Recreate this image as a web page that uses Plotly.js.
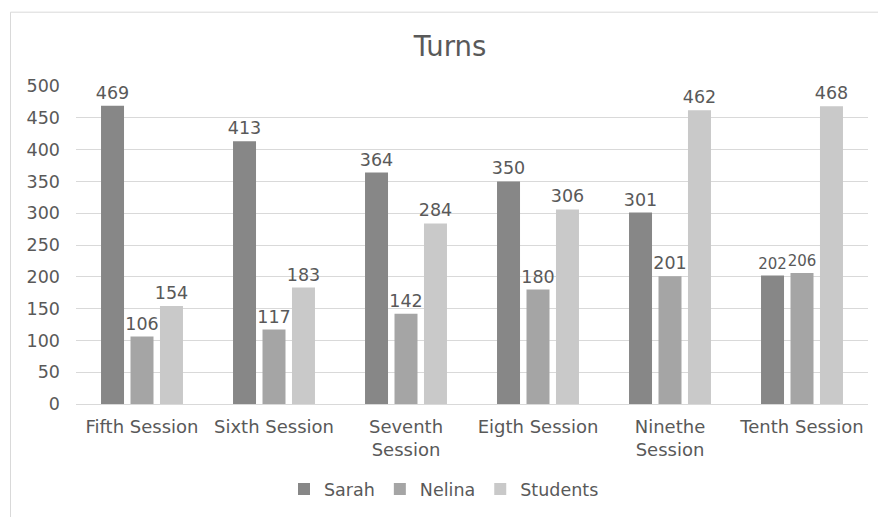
<!DOCTYPE html>
<html>
<head>
<meta charset="utf-8">
<script src="https://cdn.plot.ly/plotly-3.0.1.min.js"></script>
<style>html,body{margin:0;padding:0;background:#fff;}#chart{width:878px;height:517px;}</style>
</head>
<body>
<div id="chart"></div>
<script>
const categories = ["Fifth Session", "Sixth Session", "Seventh<br>Session", "Eigth Session", "Ninethe<br>Session", "Tenth Session"];
const sarah = [469, 413, 364, 350, 301, 202];
const nelina = [106, 117, 142, 180, 201, 206];
const students = [154, 183, 284, 306, 462, 468];
const seriesNames = ["Sarah", "Nelina", "Students"];
const colors = ["#878787", "#a5a5a5", "#c9c9c9"];

const font = {family: "DejaVu Sans, Verdana, sans-serif", color: "#595959"};
// label font sizes: the two touching labels in the last group are slightly smaller
const labelSizes = [
  [17.5, 17.5, 17.5, 17.5, 17.5, 15],
  [17.5, 17.5, 17.5, 17.5, 17.5, 15],
  [17.5, 17.5, 17.5, 17.5, 17.5, 17.5]
];
const traces = [sarah, nelina, students].map((vals, i) => ({
  type: "bar",
  name: seriesNames[i],
  x: categories,
  y: vals,
  marker: {color: colors[i]},
  text: vals.map(String),
  textposition: "outside",
  constraintext: "none",
  cliponaxis: false,
  textfont: {family: font.family, color: font.color, size: labelSizes[i]},
  hoverinfo: "x+y+name"
}));

const layout = {
  width: 878, height: 517,
  margin: {l: 76, r: 10, t: 86, b: 110},
  paper_bgcolor: "#ffffff",
  plot_bgcolor: "#ffffff",
  font: Object.assign({size: 18}, font),
  title: {text: "Turns", font: Object.assign({size: 27.5}, font), xref: "container", x: 0.5125, xanchor: "center", yref: "container", y: 0.911, yanchor: "middle"},
  barmode: "group",
  bargap: 0.33,
  bargroupgap: 0.22,
  xaxis: {
    showgrid: false, showline: true, linecolor: "#d9d9d9", linewidth: 1,
    ticks: "", tickfont: Object.assign({size: 18}, font), automargin: false,
    ticklabelstandoff: 6
  },
  yaxis: {
    range: [0, 500], dtick: 50, showgrid: true, gridcolor: "#d9d9d9", gridwidth: 1,
    zeroline: false, showline: false, ticks: "", ticklen: 0,
    tickfont: Object.assign({size: 17.5}, font), automargin: false,
    ticklabelstandoff: 15
  },
  legend: {
    orientation: "h", x: (284 - 76) / 792, xanchor: "left", y: (407 - 493) / 321, yanchor: "middle",
    font: Object.assign({size: 17.5}, font),
    traceorder: "normal", itemclick: false
  },
  shapes: [{
    type: "rect", xref: "paper", yref: "paper",
    x0: (10.5 - 76) / 792, x1: 1.1, y0: -0.5, y1: 1 + (86 - 11.5) / 321,
    line: {color: "#d9d9d9", width: 1}, fillcolor: "rgba(0,0,0,0)", layer: "below"
  }]
};

Plotly.newPlot("chart", traces, layout, {displayModeBar: false, staticPlot: true});
</script>
</body>
</html>
